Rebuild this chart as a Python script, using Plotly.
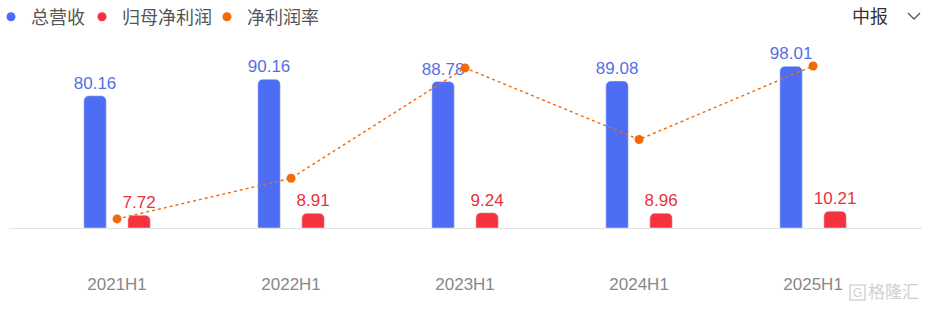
import plotly.graph_objects as go

categories = ["2021H1", "2022H1", "2023H1", "2024H1", "2025H1"]
revenue = [80.16, 90.16, 88.78, 89.08, 98.01]
net_profit = [7.72, 8.91, 9.24, 8.96, 10.21]
net_margin = [9.63, 9.84, 10.41, 10.04, 10.42]
legend_names = ["总营收", "归母净利润", "净利润率"]

BLUE = "#4e6df5"
RED = "#f7323f"
ORANGE = "#f26a0a"
FONT = "Liberation Sans, Noto Sans CJK SC, sans-serif"

W, H = 925, 309
ML, MR, MT, MB = 9, 3, 40, 37
PW, PH = W - ML - MR, H - MT - MB

def px(x):
    return (x - ML) / PW

def py(y):
    return (H - MB - y) / PH

fig = go.Figure()

fig.add_trace(go.Bar(
    x=categories, y=revenue, name=legend_names[0], marker=dict(color=BLUE, cornerradius=5),
    text=[f"{v:.2f}" for v in revenue], textposition="outside", constraintext="none",
    textfont=dict(color="#5570e6", size=17, family=FONT),
    cliponaxis=False, showlegend=False, hoverinfo="x+y",
))
fig.add_trace(go.Bar(
    x=categories, y=net_profit, name=legend_names[1], marker=dict(color=RED, cornerradius=5),
    text=[f"{v:.2f}" for v in net_profit], textposition="outside", constraintext="none",
    textfont=dict(color="#e8333f", size=17, family=FONT),
    cliponaxis=False, showlegend=False, hoverinfo="x+y",
))
fig.add_trace(go.Scatter(
    x=categories, y=net_margin, name=legend_names[2], yaxis="y2", mode="lines+markers",
    line=dict(color=ORANGE, width=1.4, dash="dot"),
    marker=dict(color=ORANGE, size=9), cliponaxis=False, showlegend=False,
))

# legend entries (circle markers), one legend box each so they can sit where the reference has them
legend_keys = ["legend", "legend2", "legend3"]
legend_x_px = [-9, 82, 207]
for name, col, key in zip(legend_names, [BLUE, RED, ORANGE], legend_keys):
    fig.add_trace(go.Scatter(
        x=[None], y=[None], mode="markers", name=name, legend=key,
        marker=dict(color=col, size=9), showlegend=True,
    ))

legend_layout = {}
for key, lx in zip(legend_keys, legend_x_px):
    legend_layout[key] = dict(
        orientation="h", x=px(lx), y=py(17), xanchor="left", yanchor="middle",
        font=dict(size=18, color="#555", family=FONT), bgcolor="rgba(0,0,0,0)",
    )

fig.update_layout(
    width=W, height=H,
    margin=dict(l=ML, r=MR, t=MT, b=MB, autoexpand=False),
    paper_bgcolor="white", plot_bgcolor="white",
    font=dict(family=FONT, color="#333"),
    barmode="group", bargap=0.494, bargroupgap=0.49,
    xaxis=dict(
        type="category", range=[-0.621, 4.626], showgrid=False, showline=False,
        ticks="", tickfont=dict(size=17, color="#888888", family=FONT), fixedrange=True,
    ),
    yaxis=dict(
        range=[-26.67, 113.94], showgrid=False, showticklabels=False,
        zeroline=True, zerolinecolor="#e2e2e2", zerolinewidth=1.2,
    ),
    yaxis2=dict(
        overlaying="y", range=[9.356, 10.554], showgrid=False,
        showticklabels=False, zeroline=False,
    ),
    showlegend=True,
    **legend_layout,
)

fig.add_annotation(
    x=px(870), y=py(17), xref="paper", yref="paper", text="中报",
    xanchor="center", yanchor="middle",
    showarrow=False, font=dict(size=18, color="#333", family=FONT),
)
fig.add_shape(
    type="path", xref="paper", yref="paper",
    path=f"M {px(908)} {py(13)} L {px(914)} {py(19)} L {px(920)} {py(13)}",
    line=dict(color="#555", width=1.3),
)

# watermark
fig.add_shape(
    type="rect", xref="paper", yref="paper",
    x0=px(850), x1=px(865), y0=py(300), y1=py(285),
    line=dict(color="#d6d6d6", width=1.6),
)
fig.add_annotation(
    x=px(857.5), y=py(292.5), xref="paper", yref="paper", text="G",
    xanchor="center", yanchor="middle",
    showarrow=False, font=dict(size=12, color="#cfcfcf", family=FONT),
)
fig.add_annotation(
    x=px(866), y=py(292.5), xref="paper", yref="paper", text="格隆汇",
    xanchor="left", yanchor="middle",
    showarrow=False, font=dict(size=17, color="#d0d0d0", family=FONT),
)

fig.write_html("out.html")
